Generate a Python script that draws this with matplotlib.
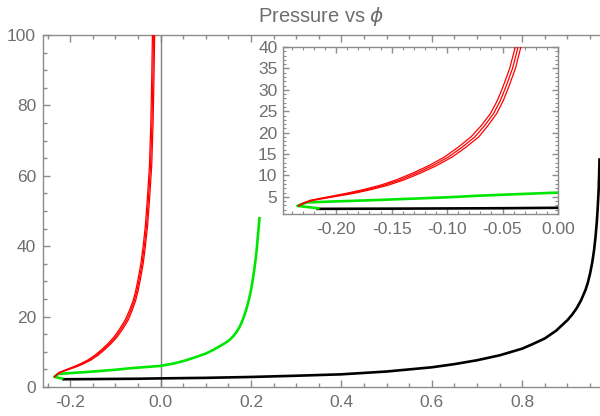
import matplotlib
matplotlib.use("Agg")
import matplotlib.pyplot as plt
from matplotlib.ticker import MultipleLocator, FormatStrFormatter

plt.rcParams['font.family'] = ['Liberation Sans', 'DejaVu Sans']
plt.rcParams['mathtext.fontset'] = 'dejavusans'

# ---- data ----
black_x = [-0.218, -0.15, -0.1, -0.05, 0.0, 0.1, 0.2, 0.3, 0.4, 0.5, 0.6, 0.65, 0.7, 0.75,
           0.8, 0.825, 0.85, 0.875, 0.9, 0.91, 0.92, 0.93, 0.94, 0.945, 0.95, 0.955, 0.959,
           0.962, 0.965, 0.967, 0.969, 0.970, 0.971]
black_y = [2.2, 2.25, 2.3, 2.35, 2.45, 2.6, 2.85, 3.2, 3.6, 4.4, 5.6, 6.5, 7.6, 9.0,
           10.9, 12.3, 13.8, 16.0, 19.0, 20.5, 22.3, 24.6, 27.6, 29.6, 32.2, 35.5, 39.0,
           42.5, 47.0, 51.0, 56.0, 60.0, 65.0]

green_x = [-0.215, -0.225, -0.235, -0.230, -0.226, -0.20, -0.17, -0.129, -0.10, -0.069, -0.035, 0.0,
           0.03, 0.057, 0.08, 0.10, 0.116, 0.13, 0.143, 0.153, 0.162, 0.169, 0.175, 0.180, 0.185,
           0.189, 0.193, 0.197, 0.200, 0.204, 0.208, 0.211, 0.213, 0.215, 0.217, 0.219]
green_y = [2.3, 2.6, 2.9, 3.4, 3.7, 3.95, 4.2, 4.6, 4.9, 5.3, 5.65, 6.0,
           6.7, 7.6, 8.6, 9.5, 10.5, 11.5, 12.5, 13.4, 14.6, 15.8, 17.1, 18.5, 20.2,
           21.8, 23.6, 25.7, 27.5, 30.5, 34.0, 37.0, 39.5, 42.5, 45.3, 48.3]

red_y = [2.9, 3.6, 4.2, 5.0, 5.8, 6.7, 7.7, 9.0, 10.5, 12.3, 14.3, 16.5, 19.0, 21.7,
         24.5, 27.5, 30.7, 35.0, 40.0, 46.0, 53.0, 63.0, 75.0, 88.0, 100.0]
red_x1 = [-0.234, -0.2295, -0.2235, -0.2075, -0.1915, -0.1755, -0.1605, -0.1455, -0.1315, -0.1165,
          -0.1025, -0.0905, -0.0785, -0.0690, -0.0608, -0.0547, -0.0496, -0.0436, -0.0385,
          -0.0335, -0.0295, -0.0245, -0.0215, -0.0195, -0.018]
red_x2 = [-0.234, -0.229, -0.222, -0.205, -0.188, -0.172, -0.157, -0.142, -0.128, -0.113,
          -0.099, -0.087, -0.075, -0.066, -0.058, -0.052, -0.047, -0.041, -0.036,
          -0.031, -0.027, -0.022, -0.019, -0.017, -0.0155]
red_x3 = [-0.234, -0.2285, -0.2205, -0.2025, -0.1845, -0.1685, -0.1535, -0.1385, -0.1245, -0.1095,
          -0.0955, -0.0835, -0.0715, -0.0630, -0.0552, -0.0493, -0.0444, -0.0384, -0.0335,
          -0.0285, -0.0245, -0.0195, -0.0165, -0.0145, -0.013]

main_xlim = (-0.26, 0.972)
main_ylim = (0, 100)
inset_xlim = (-0.248, 0.0)
inset_ylim = (1.0, 40)

title = r'Pressure vs $\phi$'

frame_col = '#8c8c8c'
label_col = '#6e6e6e'

fig = plt.figure(figsize=(6.0, 4.16), dpi=100)
ax = fig.add_axes([43/600, 29/416, 557/600, 352/416])


def draw_curves(a):
    a.plot(black_x, black_y, color='black', lw=1.9, solid_capstyle='butt', zorder=3)
    a.plot(green_x, green_y, color='#00e600', lw=1.9, solid_capstyle='butt', zorder=4)
    for rx in (red_x1, red_x2, red_x3):
        a.plot(rx, red_y, color='#ff0000', lw=0.9, zorder=5)


draw_curves(ax)
ax.axvline(0, color='#808080', lw=1.0, zorder=2)
ax.set_xlim(*main_xlim)
ax.set_ylim(*main_ylim)
ax.xaxis.set_major_locator(MultipleLocator(0.2))
ax.xaxis.set_minor_locator(MultipleLocator(0.05))
ax.yaxis.set_major_locator(MultipleLocator(20))
ax.yaxis.set_minor_locator(MultipleLocator(5))
ax.xaxis.set_major_formatter(FormatStrFormatter('%.1f'))
ax.yaxis.set_major_formatter(FormatStrFormatter('%d'))
ax.tick_params(which='both', direction='in', top=True, right=False, color=frame_col,
               labelcolor=label_col, labelsize=12.5)
ax.tick_params(which='major', length=5, width=1)
ax.tick_params(which='minor', length=3, width=1)
ax.tick_params(axis='x', pad=6)
ax.tick_params(axis='y', pad=5)
for s in ('left', 'bottom', 'top'):
    ax.spines[s].set_color(frame_col)
    ax.spines[s].set_linewidth(1.0)
ax.spines['right'].set_visible(False)
ax.set_title(title, color=label_col, fontsize=14.5, pad=9)

# inset
ins = fig.add_axes([283/600, (416-214)/416, 275/600, 167/416])
ins.set_facecolor('white')
draw_curves(ins)
ins.set_xlim(*inset_xlim)
ins.set_ylim(*inset_ylim)
ins.xaxis.set_major_locator(MultipleLocator(0.05))
ins.xaxis.set_minor_locator(MultipleLocator(0.01))
ins.yaxis.set_major_locator(MultipleLocator(5))
ins.yaxis.set_minor_locator(MultipleLocator(1))
ins.xaxis.set_major_formatter(FormatStrFormatter('%.2f'))
ins.yaxis.set_major_formatter(FormatStrFormatter('%d'))
ins.tick_params(which='both', direction='in', top=True, right=True, color=frame_col,
                labelcolor=label_col, labelsize=12.5)
ins.tick_params(which='major', length=4, width=1)
ins.tick_params(which='minor', length=2, width=0.8)
ins.tick_params(axis='x', pad=6)
ins.tick_params(axis='y', pad=4)
for s in ins.spines.values():
    s.set_color(frame_col)
    s.set_linewidth(1.0)

fig.savefig('out.png', dpi=100)
